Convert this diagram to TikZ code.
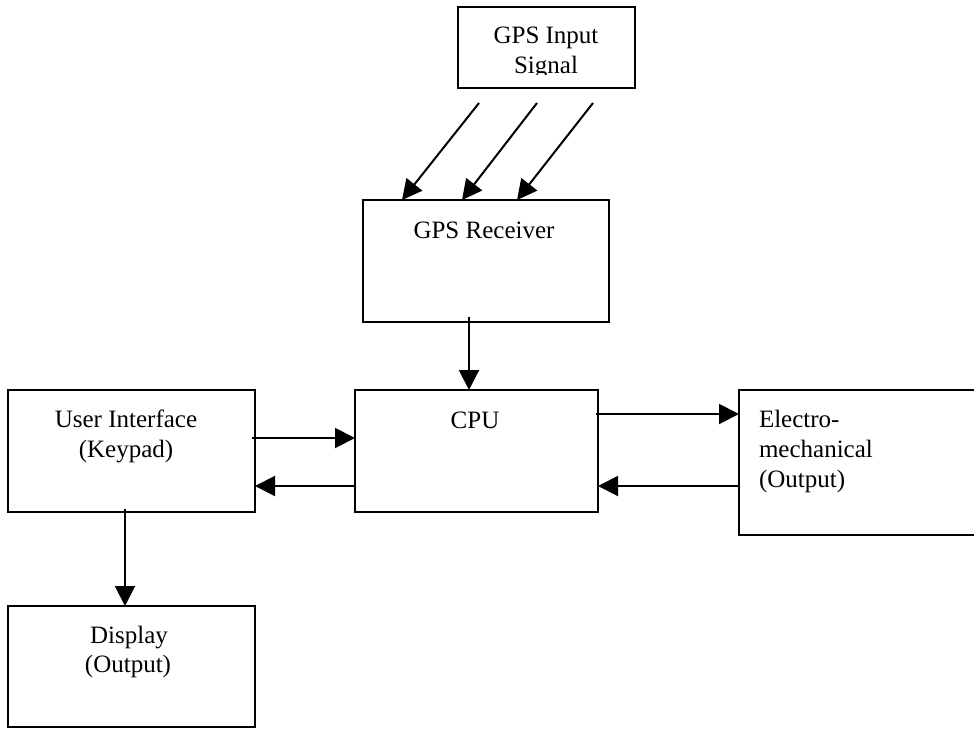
\documentclass[tikz,border=0pt]{standalone}
\usepackage{fontspec}
\setmainfont{Liberation Serif}
\usetikzlibrary{arrows.meta,calc}
\tikzset{
  blk/.style={draw, line width=2pt, inner sep=0pt, outer sep=0pt, anchor=north west},
  lbl/.style={anchor=base, inner sep=0pt, outer sep=0pt, font=\fontsize{25}{30}\selectfont},
  lblw/.style={lbl, anchor=base west},
  arr/.style={line width=2pt, -{Triangle[length=20pt,width=20pt]}},
}
\begin{document}
\begin{tikzpicture}[x=1pt,y=-1pt]
\clip (0,0) rectangle (974,728);
\fill[white] (0,0) rectangle (974,728);
% boxes
\node[blk, minimum width=177pt, minimum height=81pt] (gpsin) at (458,7) {};
\node[blk, minimum width=246pt, minimum height=122pt] (rcv) at (363,200) {};
\node[blk, minimum width=243pt, minimum height=122pt] (cpu) at (355,390) {};
\node[blk, minimum width=247pt, minimum height=122pt] (ui) at (8,390) {};
\node[blk, minimum width=300pt, minimum height=145pt] (em) at (739,390) {};
\node[blk, minimum width=247pt, minimum height=121pt] (disp) at (8,606) {};
% labels
\node[lbl] (gpsinA) at (546,43) {GPS Input};
\begin{scope}
\clip (458,50) rectangle (635,74);
\node[lbl] (gpsinB) at (546,73) {Signal};
\end{scope}
\node[lbl] (rcvA) at (484,238) {GPS Receiver};
\node[lbl] (cpuA) at (475,428) {CPU};
\node[lbl] (uiA) at (126,427) {User Interface};
\node[lbl] (uiB) at (126,457) {(Keypad)};
\node[lblw] (emA) at (759,427) {Electro-};
\node[lblw] (emB) at (759,457) {mechanical};
\node[lblw] (emC) at (759,487) {(Output)};
\node[lbl] (dispA) at (129,643) {Display};
\node[lbl] (dispB) at (128,672) {(Output)};
% connectors
\coordinate (s1) at ($(gpsin.south west)+(21,15)$);
\coordinate (t1) at ($(rcv.north west)+(39,0)$);
\coordinate (s2) at ($(gpsin.south west)+(79,15)$);
\coordinate (t2) at ($(rcv.north west)+(99,0)$);
\coordinate (s3) at ($(gpsin.south west)+(135,15)$);
\coordinate (t3) at ($(rcv.north west)+(154,0)$);
\draw[arr] (s1) -- (t1);
\draw[arr] (s2) -- (t2);
\draw[arr] (s3) -- (t3);
\coordinate (s4) at ($(rcv.south west)+(106,-5)$);
\draw[arr] (s4) -- (s4 |- cpu.north);
\coordinate (s5) at ($(ui.north east)+(-3,48)$);
\draw[arr] (s5) -- (s5 -| cpu.west);
\coordinate (s6) at ($(cpu.north west)+(0,96)$);
\draw[arr] (s6) -- (s6 -| ui.east);
\coordinate (s7) at ($(cpu.north east)+(-2,24)$);
\draw[arr] (s7) -- (s7 -| em.west);
\coordinate (s8) at ($(em.north west)+(0,96)$);
\draw[arr] (s8) -- (s8 -| cpu.east);
\coordinate (s9) at ($(ui.south west)+(117,-3)$);
\draw[arr] (s9) -- (s9 |- disp.north);
\end{tikzpicture}
\end{document}
